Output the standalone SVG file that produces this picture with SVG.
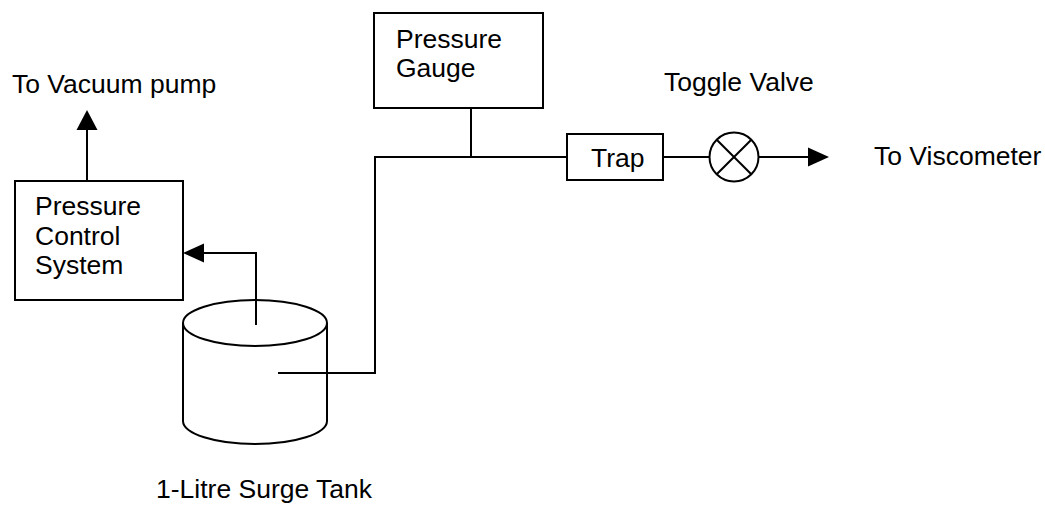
<svg xmlns="http://www.w3.org/2000/svg" width="1045" height="505" viewBox="0 0 1045 505">
<style>
.s{fill:none;stroke:#000;stroke-width:2}
.b{fill:#fff;stroke:#000;stroke-width:2}
.t{font-family:"Liberation Sans",Arial,sans-serif;font-size:26.5px;fill:#000}
.h{fill:#000;stroke:none}
</style>
<rect width="1045" height="505" fill="#fff"/>
<g id="surge-tank">
<path class="s" d="M183,323 L183,421 A72,23 0 0 0 327,421 L327,323"/>
<ellipse class="s" cx="255" cy="323" rx="72" ry="23"/>
<text class="t" x="156" y="498">1-Litre Surge Tank</text>
</g>
<g id="connectors">
<line class="s" x1="87" y1="181" x2="87" y2="128"/>
<polygon class="h" points="87,110 76.5,130 97.5,130"/>
<polyline class="s" points="256,325 256,253 202,253"/>
<polygon class="h" points="183,253 204,243.5 204,262.5"/>
<polyline class="s" points="278,373 375,373 375,157 567,157"/>
<line class="s" x1="471" y1="108" x2="471" y2="157"/>
<line class="s" x1="663" y1="157" x2="709.5" y2="157"/>
<line class="s" x1="758.5" y1="157" x2="811" y2="157"/>
<polygon class="h" points="829,157 808,147.5 808,166.5"/>
</g>
<g id="vacuum-label">
<text class="t" x="12" y="93">To Vacuum pump</text>
</g>
<g id="pressure-control">
<rect class="b" x="15" y="181" width="168" height="119"/>
<text class="t" x="35" y="215">Pressure</text>
<text class="t" x="35" y="244.5">Control</text>
<text class="t" x="35" y="274">System</text>
</g>
<g id="pressure-gauge">
<rect class="b" x="374" y="13" width="169" height="95"/>
<text class="t" x="396" y="47.5">Pressure</text>
<text class="t" x="396" y="77">Gauge</text>
</g>
<g id="trap">
<rect class="b" x="567" y="134" width="96" height="46"/>
<text class="t" x="591" y="166.5">Trap</text>
</g>
<g id="toggle-valve">
<circle class="b" cx="734" cy="157" r="24.5"/>
<line class="s" x1="716.7" y1="139.7" x2="751.3" y2="174.3"/>
<line class="s" x1="716.7" y1="174.3" x2="751.3" y2="139.7"/>
<text class="t" x="664" y="91">Toggle Valve</text>
</g>
<g id="viscometer-label">
<text class="t" x="874" y="165">To Viscometer</text>
</g>
</svg>
